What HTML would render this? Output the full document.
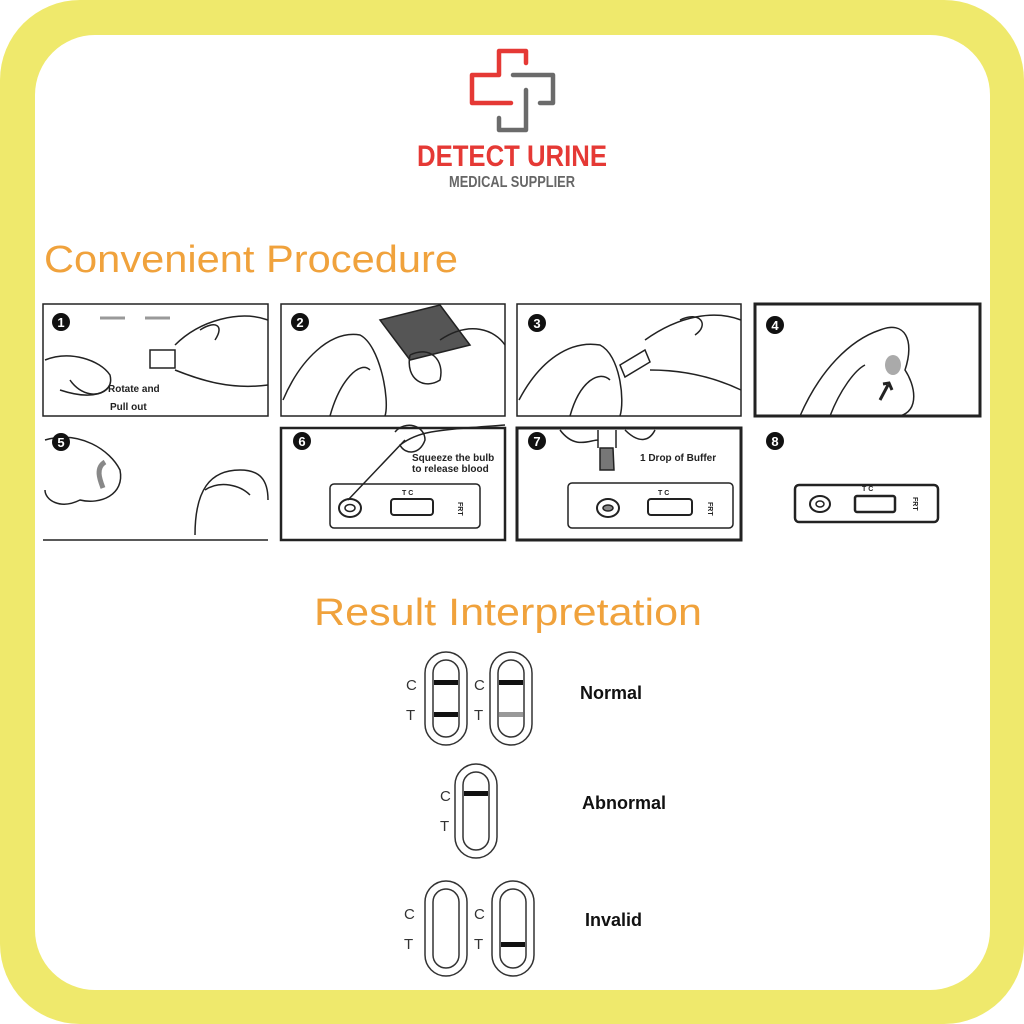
<!DOCTYPE html>
<html><head><meta charset="utf-8"><style>
html,body{margin:0;padding:0;background:#fff}
svg{display:block}
</style></head><body>
<svg width="1024" height="1024" viewBox="0 0 1024 1024" xmlns="http://www.w3.org/2000/svg" font-family="Liberation Sans, sans-serif">
<rect x="0" y="0" width="1024" height="1024" rx="80" fill="#efe96c"/>
<rect x="35" y="35" width="955" height="955" rx="60" fill="#fff"/>
<!-- logo -->
<g fill="none" stroke-width="4.5" stroke-linejoin="round" stroke-linecap="round">
<path d="M526 63 V51 H499 V75 H472 V103 H511" stroke="#e53935"/>
<path d="M513 75 H553 V103 H540" stroke="#6b6b6b"/>
<path d="M526 90 V130 H499 V118" stroke="#6b6b6b"/>
</g>
<text x="512" y="166" text-anchor="middle" font-family="Liberation Sans Narrow, Liberation Sans, sans-serif" font-size="30" font-weight="bold" fill="#e53935" textLength="190" lengthAdjust="spacingAndGlyphs">DETECT URINE</text>
<text x="512" y="187" text-anchor="middle" font-family="Liberation Sans Narrow, Liberation Sans, sans-serif" font-size="16" font-weight="bold" fill="#666" textLength="126" lengthAdjust="spacingAndGlyphs">MEDICAL SUPPLIER</text>
<text x="44" y="272" font-size="38" fill="#f0a23c" textLength="414" lengthAdjust="spacingAndGlyphs">Convenient Procedure</text>
<!-- panels -->
<g fill="none" stroke="#222" stroke-width="1.5">
<rect x="43" y="304" width="225" height="112"/>
<rect x="281" y="304" width="224" height="112"/>
<rect x="517" y="304" width="224" height="112"/>
<rect x="755" y="304" width="225" height="112" stroke-width="3"/>
<rect x="281" y="428" width="224" height="112" stroke-width="2.5"/>
<rect x="517" y="428" width="224" height="112" stroke-width="3"/>
<line x1="43" y1="540" x2="268" y2="540"/>
<path d="M45 360 C70 350 100 360 110 375 C115 395 90 400 60 390"/>
<path d="M70 380 C80 395 100 400 110 385"/>
<path d="M150 350 H175 V368 H150 Z M175 345 C200 320 240 310 268 320"/>
<path d="M175 370 C200 380 230 390 268 385 M200 330 C215 320 225 325 215 340"/>
<path d="M100 318 H125 M145 318 H170" stroke="#999" stroke-width="3"/>
<path d="M283 400 C300 360 330 330 360 335 C380 345 390 400 385 416 M330 416 C340 380 360 360 370 370"/>
<path d="M380 320 L440 305 L470 345 L410 360 Z" fill="#555"/>
<path d="M410 355 C430 345 445 360 440 380 C425 390 405 380 410 355 M440 340 C470 320 495 330 505 345"/>
<path d="M519 400 C540 360 570 340 600 345 C620 355 625 400 620 416 M570 416 C580 380 600 370 610 380"/>
<path d="M620 365 L645 350 L650 362 L625 377 Z M645 340 C680 315 715 310 741 320 M650 370 C690 370 720 380 741 390"/>
<path d="M680 320 C700 310 710 325 695 335"/>
<path d="M800 416 C820 370 850 340 880 330 C905 320 915 340 905 370 C915 385 920 410 900 416 M830 416 C840 390 855 370 865 365"/>
<ellipse cx="893" cy="365" rx="8" ry="10" fill="#aaa" stroke="none"/>
<path d="M880 400 L888 385 M883 384 L889 383 L892 390" stroke-width="3"/>
<path d="M45 440 C80 430 110 450 120 470 C125 495 100 505 80 500 C60 510 45 500 45 490"/>
<path d="M105 462 C95 468 100 480 103 488" stroke="#888" stroke-width="5"/>
<path d="M195 535 C195 490 210 470 240 470 C260 470 268 480 268 500 M205 490 C220 480 240 485 250 495"/>
<rect x="330" y="484" width="150" height="44" rx="4"/>
<ellipse cx="350" cy="508" rx="11" ry="9" stroke-width="2"/>
<ellipse cx="350" cy="508" rx="5" ry="3.5"/>
<rect x="391" y="499" width="42" height="16" rx="3" stroke-width="2"/>
<path d="M405 440 L348 500 M395 432 C405 420 425 425 425 440 C420 455 405 455 400 445 C420 430 440 430 505 425"/>
<rect x="568" y="483" width="165" height="45" rx="4"/>
<ellipse cx="608" cy="508" rx="11" ry="9" stroke-width="2"/>
<ellipse cx="608" cy="508" rx="5" ry="3" fill="#888"/>
<rect x="648" y="499" width="44" height="16" rx="3" stroke-width="2"/>
<path d="M600 448 L613 448 L614 470 L600 470 Z" fill="#777"/>
<path d="M598 448 V430 M616 448 V430 M560 430 C575 450 590 440 598 440 M625 430 C640 445 650 440 655 430"/>
<rect x="795" y="485" width="143" height="37" rx="4" stroke-width="2.5"/>
<ellipse cx="820" cy="504" rx="10" ry="8" stroke-width="2"/>
<ellipse cx="820" cy="504" rx="4" ry="3"/>
<rect x="855" y="496" width="40" height="16" rx="2" stroke-width="2.5"/>
</g>
<g font-size="7" font-weight="bold" fill="#222">
<text x="402" y="495">T C</text><text x="658" y="495">T C</text><text x="862" y="491">T C</text>
<text x="458" y="502" transform="rotate(90 458 502)">FRT</text>
<text x="708" y="502" transform="rotate(90 708 502)">FRT</text>
<text x="913" y="497" transform="rotate(90 913 497)">FRT</text>
</g>
<g font-size="10" font-weight="bold" fill="#222">
<text x="108" y="392">Rotate and</text><text x="110" y="410">Pull out</text>
<text x="412" y="461">Squeeze the bulb</text><text x="412" y="472">to release blood</text>
<text x="640" y="461">1 Drop of Buffer</text>
</g>
<g font-size="13" font-weight="bold" fill="#fff">
<circle cx="61" cy="322" r="9" fill="#111"/><text x="61" y="327" text-anchor="middle">1</text>
<circle cx="300" cy="322" r="9" fill="#111"/><text x="300" y="327" text-anchor="middle">2</text>
<circle cx="537" cy="323" r="9" fill="#111"/><text x="537" y="328" text-anchor="middle">3</text>
<circle cx="775" cy="325" r="9" fill="#111"/><text x="775" y="330" text-anchor="middle">4</text>
<circle cx="61" cy="442" r="9" fill="#111"/><text x="61" y="447" text-anchor="middle">5</text>
<circle cx="302" cy="441" r="9" fill="#111"/><text x="302" y="446" text-anchor="middle">6</text>
<circle cx="537" cy="441" r="9" fill="#111"/><text x="537" y="446" text-anchor="middle">7</text>
<circle cx="775" cy="441" r="9" fill="#111"/><text x="775" y="446" text-anchor="middle">8</text>
</g>
<text x="314" y="625" font-size="38" fill="#f0a23c" textLength="388" lengthAdjust="spacingAndGlyphs">Result Interpretation</text>
<g fill="none" stroke="#333" stroke-width="1.5">
<rect x="425" y="652" width="42" height="93" rx="21"/><rect x="433" y="660" width="26" height="77" rx="13"/>
<rect x="490" y="652" width="42" height="93" rx="21"/><rect x="498" y="660" width="26" height="77" rx="13"/>
<rect x="455" y="764" width="42" height="94" rx="21"/><rect x="463" y="772" width="26" height="78" rx="13"/>
<rect x="425" y="881" width="42" height="95" rx="21"/><rect x="433" y="889" width="26" height="79" rx="13"/>
<rect x="492" y="881" width="42" height="95" rx="21"/><rect x="500" y="889" width="26" height="79" rx="13"/>
</g>
<g>
<rect x="434" y="680" width="24" height="5" fill="#111"/><rect x="434" y="712" width="24" height="5" fill="#111"/>
<rect x="499" y="680" width="24" height="5" fill="#111"/><rect x="499" y="712" width="24" height="5" fill="#999"/>
<rect x="464" y="791" width="24" height="5" fill="#111"/>
<rect x="501" y="942" width="24" height="5" fill="#111"/>
</g>
<g font-size="15" fill="#333">
<text x="406" y="690">C</text><text x="406" y="720">T</text>
<text x="474" y="690">C</text><text x="474" y="720">T</text>
<text x="440" y="801">C</text><text x="440" y="831">T</text>
<text x="404" y="919">C</text><text x="404" y="949">T</text>
<text x="474" y="919">C</text><text x="474" y="949">T</text>
</g>
<g font-size="18" font-weight="bold" fill="#111">
<text x="580" y="699">Normal</text><text x="582" y="809">Abnormal</text><text x="585" y="926">Invalid</text>
</g>
</svg>
</body></html>
